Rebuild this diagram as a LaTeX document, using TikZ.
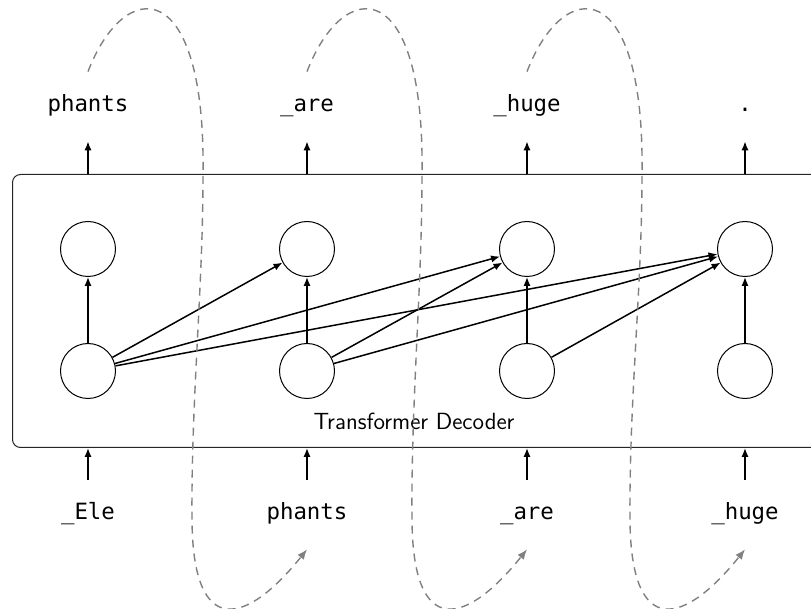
\documentclass[tikz,border=0pt]{standalone}
\usepackage{fontspec}
\newfontfamily\tokfont{DejaVu Sans Mono}
\usetikzlibrary{arrows.meta,calc}
\begin{document}
\begin{tikzpicture}[x=0.5pt,y=-0.5pt,
  unit/.style={circle,draw,line width=0.5pt,minimum size=27.5pt,inner sep=0pt},
  tok/.style={font=\tokfont\fontsize{11.2}{13}\selectfont,text height=8pt,text depth=2.5pt,
              inner xsep=2pt,inner ysep=12pt,anchor=base},
  arr/.style={-{Latex[length=4.5pt,width=3.6pt]},line width=0.75pt},
  flow/.style={-{Latex[length=5pt,width=4pt]},black!50,line width=0.7pt,dash pattern=on 4pt off 3pt}]
\useasboundingbox (0,0) rectangle (811,609);
\clip (0,0) rectangle (811,609);

% decoder block
\node[draw=black!85,line width=0.5pt,rounded corners=4pt,minimum width=404.5pt,
      minimum height=136.5pt,anchor=north west,inner sep=0pt] (dec) at (12,174) {};
\node[font=\sffamily\fontsize{11.7}{14}\selectfont] (lbl) at (414,421) {Transformer Decoder};

% hidden units
\foreach \k/\x in {0/88,1/307,2/527,3/745}{
  \node[unit] (t\k) at (\x,249) {};
  \node[unit] (b\k) at (\x,371) {};
}

% output tokens
\node[tok] (o0) at (88,112) {phants};
\node[tok] (o1) at (307,112) {\_are};
\node[tok] (o2) at (527,112) {\_huge};
\node[tok] (o3) at (745,112) {.};

% input tokens
\node[tok] (i0) at (88,520) {\_Ele};
\node[tok] (i1) at (307,520) {phants};
\node[tok] (i2) at (527,520) {\_are};
\node[tok] (i3) at (745,520) {\_huge};

% causal attention connections
\foreach \k in {0,1,2,3}{
  \draw[arr] (b\k) -- (t\k);
  \draw[arr] (t\k |- dec.north) -- (o\k.south);
  \draw[arr] (i\k.north) -- (b\k |- dec.south);
}
\draw[arr] (b0) -- (t1);
\draw[arr] (b0) -- (t2);
\draw[arr] (b0) -- (t3);
\draw[arr] (b1) -- (t2);
\draw[arr] (b1) -- (t3);
\draw[arr] (b2) -- (t3);

% each output is fed back as the next input
\foreach \k/\n in {0/1,1/2,2/3}{
  \draw[flow] (o\k.north) .. controls +(37,-96) and +(3,-200) .. ++(115,103)
     .. controls +(0,115) and +(-1,-120) .. ($(i\n.south)+(-115,-29)$)
     .. controls +(1,120) and +(-60,75) .. (i\n.south);
}
\end{tikzpicture}
\end{document}
